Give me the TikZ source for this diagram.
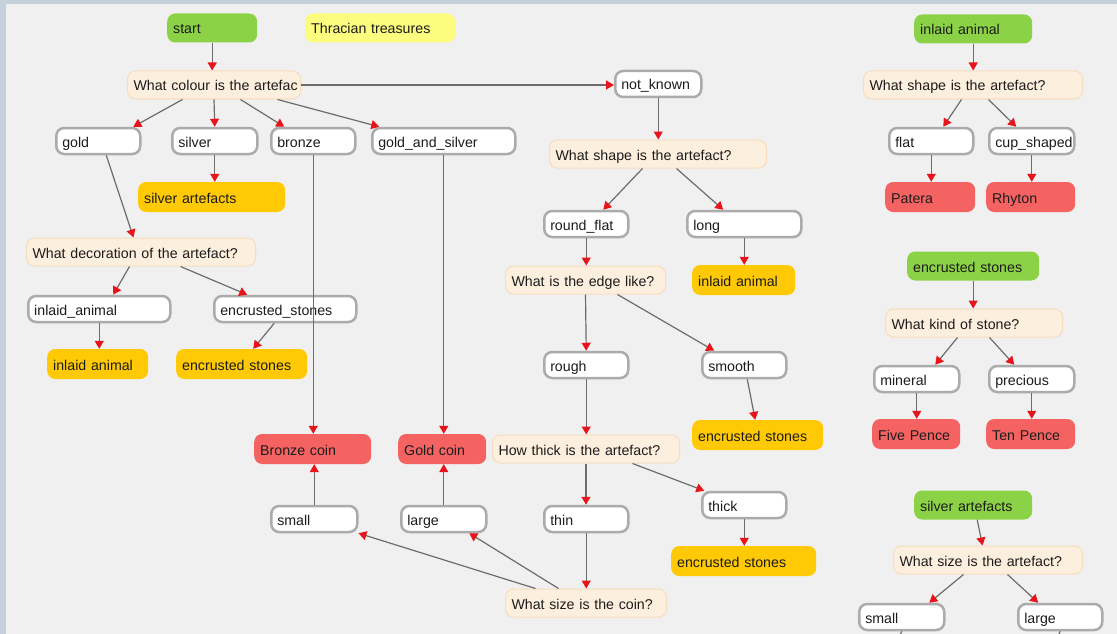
\documentclass[tikz,border=0pt]{standalone}
\usepackage{fontspec}
\setmainfont{Liberation Sans}
\usetikzlibrary{arrows.meta}
\definecolor{bgout}{HTML}{C5D0DB}
\definecolor{bgin}{HTML}{F0F0F0}
\definecolor{cgreen}{HTML}{8CD246}
\definecolor{cyellow}{HTML}{FCFC7E}
\definecolor{corange}{HTML}{FFCA05}
\definecolor{cred}{HTML}{F56262}
\definecolor{qfill}{HTML}{FDEFDD}
\definecolor{qline}{HTML}{F6DDBE}
\definecolor{aline}{HTML}{ABABAB}
\definecolor{linec}{HTML}{6C6C6C}
\definecolor{tipc}{HTML}{E8141B}
\definecolor{txt}{HTML}{1C1C1C}
\tikzset{
  base/.style={rounded corners=8pt, inner xsep=6pt, inner ysep=0pt, align=left,
    text height=12pt, text depth=0pt,
    font=\fontsize{14.2}{17}\selectfont, text=txt},
  startbox/.style={base, fill=cgreen, minimum height=29pt},
  notebox/.style={base, fill=cyellow, minimum height=29pt},
  qbox/.style={base, fill=qfill, draw=qline, line width=1pt, minimum height=28pt},
  abox/.style={base, fill=white, draw=aline, line width=2.5pt, minimum height=26pt},
  goalbox/.style={base, fill=corange, minimum height=30pt},
  leafbox/.style={base, fill=cred, minimum height=30pt},
  conn/.style={draw=linec, line width=1.2pt,
    -{Triangle[length=8pt,width=9pt,fill=tipc,color=tipc]}},
  stub/.style={draw=linec, line width=1.2pt},
}
\newcommand{\mkbox}[6]{%
  \pgfmathsetmacro{\mkboxw}{#4-#3}%
  \pgfmathsetmacro{\mkboxt}{#4-#3-12}%
  \node[#1, anchor=west, minimum width=\mkboxw pt, text width=\mkboxt pt] (#2) at (#3,#5) {\mbox{#6}};}
\begin{document}
\begin{tikzpicture}[x=1pt,y=-1pt]
\useasboundingbox (0,0) rectangle (1117,634);
\fill[bgout] (0,0) rectangle (1117,634);
\fill[bgin] (6,4) rectangle (1117,634);

% left tree
\mkbox{startbox}{start}{167}{257}{28}{start}
\mkbox{notebox}{thr}{305}{455}{28}{Thracian treasures}
\mkbox{qbox}{q1}{127}{300}{85}{What colour is the artefac}
\mkbox{abox}{gold}{55}{139}{141}{gold}
\mkbox{abox}{silver}{171}{256}{141}{silver}
\mkbox{abox}{bronze}{270}{354}{141}{bronze}
\mkbox{abox}{gas}{371}{514}{141}{gold\_and\_silver}
\mkbox{goalbox}{silverart}{138}{285}{197}{silver artefacts}
\mkbox{qbox}{q2}{26}{255}{252}{What decoration of the artefact?}
\mkbox{abox}{inlaid}{27}{169}{309}{inlaid\_animal}
\mkbox{abox}{encr}{213}{355}{309}{encrusted\_stones}
\mkbox{goalbox}{inlaidR}{47}{148}{364}{inlaid animal}
\mkbox{goalbox}{encrR}{176}{307}{364}{encrusted stones}
\mkbox{leafbox}{bcoin}{254}{371}{449}{Bronze coin}
\mkbox{leafbox}{gcoin}{398}{486}{449}{Gold coin}
\mkbox{qbox}{qthick}{492}{679}{449}{How thick is the artefact?}
\mkbox{abox}{small}{270}{356}{519}{small}
\mkbox{abox}{large}{400}{485}{519}{large}
\mkbox{abox}{thin}{543}{627}{519}{thin}
\mkbox{qbox}{qsize}{505}{666}{603}{What size is the coin?}

% middle tree
\mkbox{abox}{notk}{614}{700}{84}{not\_known}
\mkbox{qbox}{qshape}{549}{766}{154}{What shape is the artefact?}
\mkbox{abox}{round}{543}{627}{224}{round\_flat}
\mkbox{abox}{long}{686}{800}{224}{long}
\mkbox{qbox}{qedge}{505}{665}{280}{What is the edge like?}
\mkbox{goalbox}{inlaidR2}{692}{795}{280}{inlaid animal}
\mkbox{abox}{rough}{543}{627}{365}{rough}
\mkbox{abox}{smooth}{701}{785}{365}{smooth}
\mkbox{goalbox}{encrR2}{692}{823}{435}{encrusted stones}
\mkbox{abox}{thick}{701}{785}{505}{thick}
\mkbox{goalbox}{encrR3}{671}{816}{561}{encrusted stones}

% right trees
\mkbox{startbox}{g1}{914}{1032}{29}{inlaid animal}
\mkbox{qbox}{qs2}{863}{1082}{85}{What shape is the artefact?}
\mkbox{abox}{flat}{888}{972}{141}{flat}
\mkbox{abox}{cup}{988}{1073}{141}{cup\_shaped}
\mkbox{leafbox}{patera}{885}{975}{197}{Patera}
\mkbox{leafbox}{rhyton}{986}{1075}{197}{Rhyton}
\mkbox{startbox}{g2}{907}{1039}{266}{encrusted stones}
\mkbox{qbox}{qkind}{885}{1062}{323}{What kind of stone?}
\mkbox{abox}{mineral}{873}{958}{379}{mineral}
\mkbox{abox}{precious}{988}{1073}{379}{precious}
\mkbox{leafbox}{five}{872}{960}{434}{Five Pence}
\mkbox{leafbox}{ten}{986}{1075}{434}{Ten Pence}
\mkbox{startbox}{g3}{914}{1032}{505}{silver artefacts}
\mkbox{qbox}{qsize2}{893}{1082}{560}{What size is the artefact?}
\mkbox{abox}{small2}{858}{943}{617}{small}
\mkbox{abox}{large2}{1017}{1101}{617}{large}
\coordinate (s2end) at (900.5,634);
\coordinate (l2end) at (1059,634);

% connectors left
\draw[conn] (start.south) -- (q1.north -| start.south);
\draw[conn] ([xshift=-31.5pt]q1.south) -- ([xshift=35pt]gold.north);
\draw[conn] (q1.south) -- (silver.north);
\draw[conn] ([xshift=26.5pt]q1.south) -- ([xshift=-29pt]bronze.north);
\draw[conn] ([xshift=63.5pt]q1.south) -- ([xshift=-64.5pt]gas.north);
\draw[conn] (q1.east) -- (q1.east -| notk.west);
\draw[conn] ([xshift=8pt]gold.south) -- ([xshift=-7.5pt]q2.north);
\draw[conn] (silver.south) -- (silverart.north -| silver.south);
\draw[conn] (bronze.south) -- (bcoin.north -| bronze.south);
\draw[conn] (gas.south) -- (gcoin.north -| gas.south);
\draw[conn] ([xshift=-11.5pt]q2.south) -- ([xshift=14pt]inlaid.north);
\draw[conn] ([xshift=39.5pt]q2.south) -- ([xshift=-38pt]encr.north);
\draw[conn] (inlaid.south) -- (inlaidR.north -| inlaid.south);
\draw[conn] ([xshift=-11pt]encr.south) -- ([xshift=11.5pt]encrR.north);
\draw[conn] (small.north) -- (bcoin.south -| small.north);
\draw[conn] (large.north) -- (gcoin.south -| large.north);
\draw[conn] (qthick.south) -- (thin.north -| qthick.south);
\draw[conn] (thin.south) -- (qsize.north -| thin.south);
\draw[conn] ([xshift=-50.5pt]qsize.north) -- (small.south east);
\draw[conn] ([xshift=-27.5pt]qsize.north) -- ([xshift=25.5pt]large.south);

% connectors middle
\draw[conn] (notk.south) -- (qshape.north -| notk.south);
\draw[conn] ([xshift=-15.5pt]qshape.south) -- ([xshift=17pt]round.north);
\draw[conn] ([xshift=18.5pt]qshape.south) -- ([xshift=-21pt]long.north);
\draw[conn] (round.south) -- (qedge.north -| round.south);
\draw[conn] (long.south) -- (inlaidR2.north -| long.south);
\draw[conn] (qedge.south) -- (rough.north);
\draw[conn] ([xshift=32pt]qedge.south) -- ([xshift=-30pt]smooth.north);
\draw[conn] ([xshift=3pt]smooth.south) -- ([xshift=-2.5pt]encrR2.north);
\draw[conn] (rough.south) -- (qthick.north -| rough.south);
\draw[conn] ([xshift=46.5pt]qthick.south) -- ([xshift=-40pt]thick.north);
\draw[conn] (thick.south) -- (encrR3.north -| thick.south);

% connectors right
\draw[conn] (g1.south) -- (qs2.north -| g1.south);
\draw[conn] ([xshift=-11.5pt]qs2.south) -- ([xshift=12pt]flat.north);
\draw[conn] ([xshift=15.5pt]qs2.south) -- ([xshift=-15.5pt]cup.north);
\draw[conn] (flat.south) -- (patera.north -| flat.south);
\draw[conn] (cup.south) -- (rhyton.north -| cup.south);
\draw[conn] (g2.south) -- (qkind.north -| g2.south);
\draw[conn] ([xshift=-16.5pt]qkind.south) -- ([xshift=18.5pt]mineral.north);
\draw[conn] ([xshift=15.5pt]qkind.south) -- ([xshift=-17.5pt]precious.north);
\draw[conn] (mineral.south) -- (five.north -| mineral.south);
\draw[conn] (precious.south) -- (ten.north -| precious.south);
\draw[conn] ([xshift=4pt]g3.south) -- ([xshift=-5.5pt]qsize2.north);
\draw[conn] ([xshift=-24.5pt]qsize2.south) -- ([xshift=27.5pt]small2.north);
\draw[conn] ([xshift=19.5pt]qsize2.south) -- ([xshift=-22pt]large2.north);
\draw[stub] (small2.south) -- (s2end);
\draw[stub] (large2.south) -- (l2end);
\end{tikzpicture}
\end{document}
